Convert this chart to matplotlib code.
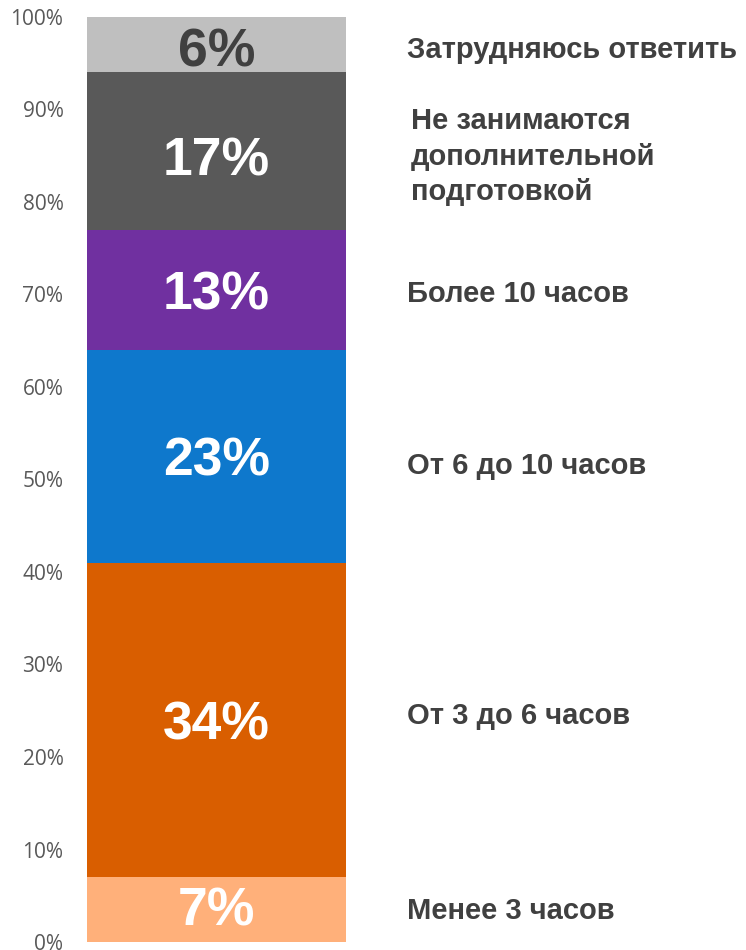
import matplotlib.pyplot as plt
import numpy as np

# data (bottom to top)
categories = ['Менее 3 часов', 'От 3 до 6 часов', 'От 6 до 10 часов', 'Более 10 часов',
              'Не занимаются\nдополнительной\nподготовкой', 'Затрудняюсь ответить']
values = [7, 34, 23, 13, 17, 6]
colors = ['#FFB07A', '#D95E00', '#0E78CC', '#7030A0', '#595959', '#BFBFBF']
label_colors = ['white', 'white', 'white', 'white', 'white', '#404040']
yticks = np.arange(0, 101, 10)

# small nudges of the labels (in % units), layout only
side_nudge = [-0.2, 0.4, -1.0, -0.4, -0.6, -0.6]
side_x = [1.235, 1.235, 1.235, 1.235, 1.25, 1.235]
pct_nudge = [0.4, 0.0, 0.0, 0.0, -0.5, -0.2]

fig = plt.figure(figsize=(7.46, 9.50), dpi=100)
ax = fig.add_axes([87 / 746, 8 / 950, 259 / 746, 925 / 950])

bottoms = np.concatenate([[0], np.cumsum(values)[:-1]])
ax.bar([0] * len(values), values, bottom=bottoms, width=1.0, color=colors, edgecolor='none')

for i, (v, b, cat, lc) in enumerate(zip(values, bottoms, categories, label_colors)):
    mid = b + v / 2
    ax.text(0, mid + pct_nudge[i], f'{v}%', ha='center', va='center_baseline', fontsize=38.5,
            fontweight='bold', color=lc, family='Liberation Sans')
    ax.text(side_x[i], mid + side_nudge[i], cat, ha='left', va='center', fontsize=21,
            fontweight='bold', color='#404040', family='Liberation Sans', linespacing=1.33,
            transform=ax.get_yaxis_transform(), clip_on=False)

ax.set_xlim(-0.5, 0.5)
ax.set_ylim(0, 100)
ax.set_yticks(yticks)
ax.set_yticklabels([f'{t}%' for t in yticks], fontsize=15, color='#595959', family='Open Sans')
for t in ax.get_yticklabels():
    t.set_verticalalignment('center_baseline')
ax.tick_params(axis='y', length=0, pad=17)
ax.set_xticks([])
for s in ax.spines.values():
    s.set_visible(False)

plt.savefig('out.png', dpi=100)
